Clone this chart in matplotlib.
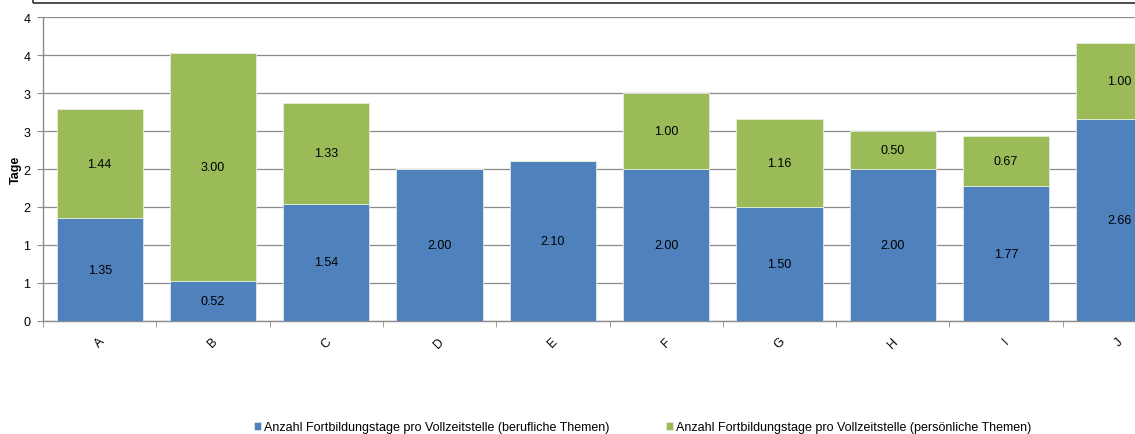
import numpy as np
import matplotlib
matplotlib.use("Agg")
import matplotlib.pyplot as plt
from matplotlib.patches import Rectangle

# data
categories = ["A", "B", "C", "D", "E", "F", "G", "H", "I", "J"]
beruflich = [1.35, 0.52, 1.54, 2.00, 2.10, 2.00, 1.50, 2.00, 1.77, 2.66]
persoenlich = [1.44, 3.00, 1.33, 0.00, 0.00, 1.00, 1.16, 0.50, 0.67, 1.00]
ytick_vals = [0, 0.5, 1, 1.5, 2, 2.5, 3, 3.5, 4]
ytick_labels = ["0", "1", "1", "2", "2", "3", "3", "4", "4"]
label_blue = "Anzahl Fortbildungstage pro Vollzeitstelle (berufliche Themen)"
label_green = "Anzahl Fortbildungstage pro Vollzeitstelle (persönliche Themen)"

plt.rcParams['font.family'] = ['Liberation Sans', 'DejaVu Sans']

fig = plt.figure(figsize=(11.35, 4.35), dpi=100)
ax = fig.add_axes([43 / 1135, 113 / 435, 1133 / 1135, 304 / 435])

x = np.arange(len(categories))
blue = "#4F81BD"
green = "#9BBB59"

b1 = ax.bar(x, beruflich, width=0.76, color=blue, edgecolor="#dfe6f0", linewidth=0.6,
            zorder=3, label=label_blue)
b2 = ax.bar(x, persoenlich, width=0.76, bottom=beruflich, color=green, edgecolor="#e6eedb",
            linewidth=0.6, zorder=3, label=label_green)

# data labels
for i in range(len(categories)):
    ax.text(x[i], beruflich[i] / 2, f"{beruflich[i]:.2f}", ha="center", va="center",
            fontsize=9, zorder=4)
    if persoenlich[i] > 0:
        ax.text(x[i], beruflich[i] + persoenlich[i] / 2, f"{persoenlich[i]:.2f}",
                ha="center", va="center", fontsize=9, zorder=4)

ax.set_xlim(-0.5, len(categories) - 0.5)
ax.set_ylim(0, 4)
ax.set_yticks(ytick_vals)
ax.set_yticklabels(ytick_labels, fontsize=9)
ax.yaxis.grid(True, color="#8c8c8c", linewidth=0.9, zorder=0)
ax.set_axisbelow(True)

ax.set_xticks(x)
ax.set_xticklabels(categories, rotation=45, fontsize=9, ha="center", va="top")
ax.tick_params(axis="x", length=0, pad=10)
ax.set_xticks(np.arange(-0.5, len(categories), 1), minor=True)
ax.tick_params(axis="x", which="minor", length=4, color="#8c8c8c", direction="out")
ax.tick_params(axis="y", length=4, color="#8c8c8c", direction="out", pad=5)

for s in ["top", "right"]:
    ax.spines[s].set_visible(False)
for s in ["left", "bottom"]:
    ax.spines[s].set_color("#8c8c8c")
    ax.spines[s].set_linewidth(1.0)

ax.set_ylabel("Tage", fontsize=9, fontweight="bold")
ax.yaxis.set_label_coords(-0.019, 0.5)

# frame of the title box cut off at the top
fig.patches.append(Rectangle((33 / 1135, 431 / 435), 1.2, 0.1, transform=fig.transFigure,
                             fill=False, edgecolor="#404040", linewidth=1.3, clip_on=False))

fig.legend(handles=[b1, b2], loc="center", bbox_to_anchor=(0.566, 0.016), ncol=2,
           frameon=False, fontsize=9, handlelength=0.6, handleheight=0.6,
           handletextpad=0.2, columnspacing=4.5)

fig.savefig("out.png", dpi=100)
